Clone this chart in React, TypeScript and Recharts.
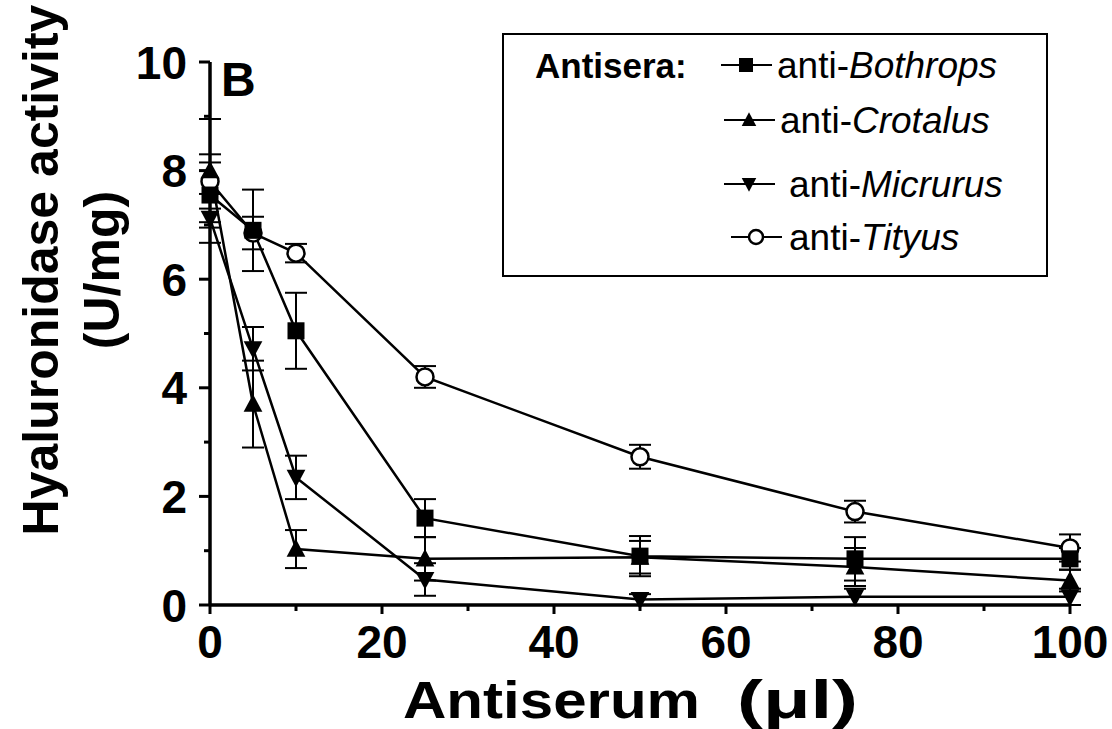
import React from 'react';
import { LineChart, Line, XAxis, YAxis, ErrorBar, Legend } from 'recharts';

const FONT = '"Liberation Sans", Arial, Helvetica, sans-serif';

// Antiserum volume (µl)
const antiserumVolumes = [0, 5, 10, 25, 50, 75, 100];

// Hyaluronidase activity (U/mg) per antiserum, with error (±)
const bothrops = [7.55, 6.9, 5.05, 1.6, 0.9, 0.85, 0.85];
const bothropsErr = [0.6, 0.75, 0.7, 0.35, 0.37, 0.4, 0.2];
const crotalus = [8.0, 3.7, 1.03, 0.85, 0.88, 0.7, 0.45];
const crotalusErr = [0.95, 0.8, 0.35, 0.4, 0.3, 0.35, 0.2];
const micrurus = [7.12, 4.72, 2.35, 0.47, 0.1, 0.15, 0.15];
const micrurusErr = [0.45, 0.4, 0.4, 0.3, 0.1, 0.15, 0.15];
const tityus = [7.8, 6.85, 6.48, 4.2, 2.73, 1.72, 1.05];
const tityusErr = [0.5, 0.3, 0.17, 0.2, 0.22, 0.2, 0.25];

const xTicks = [0, 10, 20, 30, 40, 50, 60, 70, 80, 90, 100];
const xTickLabels = [0, 20, 40, 60, 80, 100];
const yTicks = [0, 1, 2, 3, 4, 5, 6, 7, 8, 9, 10];
const yTickLabels = [0, 2, 4, 6, 8, 10];

const legendGenera = ['Bothrops', 'Crotalus', 'Micrurus', 'Tityus'];
const legendMarkers = ['square', 'triangle', 'invTriangle', 'circle'];
const legendTitle = 'Antisera:';
const panelLetter = 'B';
const xTitleMain = 'Antiserum';
const xTitleUnit = '(μl)';
const yTitleLine1 = 'Hyaluronidase activity';
const yTitleLine2 = '(U/mg)';

const data = antiserumVolumes.map((x, i) => ({
  x,
  bothrops: bothrops[i],
  bothropsErr: bothropsErr[i],
  crotalus: crotalus[i],
  crotalusErr: crotalusErr[i],
  micrurus: micrurus[i],
  micrurusErr: micrurusErr[i],
  tityus: tityus[i],
  tityusErr: tityusErr[i],
}));

const TICK_SIZE = 8;
const TICK_MARGIN = 12;

const YTick = (props: any) => {
  const { x, y, payload } = props;
  const v = payload.value;
  const axisX = x + TICK_SIZE + TICK_MARGIN;
  const major = yTickLabels.includes(v);
  return (
    <g>
      <line x1={axisX} x2={axisX - (major ? 11 : 6)} y1={y} y2={y} stroke="#000" strokeWidth={3} />
      {major && (
        <text x={x - 3} y={y} dy="0.36em" textAnchor="end" fontFamily={FONT} fontWeight="bold" fontSize={46} fill="#000">
          {v}
        </text>
      )}
    </g>
  );
};

const XTick = (props: any) => {
  const { x, y, payload } = props;
  const v = payload.value;
  const axisY = y - TICK_SIZE - TICK_MARGIN;
  const major = xTickLabels.includes(v);
  return (
    <g>
      <line x1={x} x2={x} y1={axisY} y2={axisY + (major ? 9 : 6)} stroke="#000" strokeWidth={3} />
      {major && (
        <text x={x} y={y} dy="0.71em" textAnchor="middle" fontFamily={FONT} fontWeight="bold" fontSize={46} fill="#000">
          {v}
        </text>
      )}
    </g>
  );
};

const XTitle = (props: any) => {
  const vb = props.viewBox;
  const cx = vb.x + vb.width / 2;
  const by = vb.y + 113;
  return (
    <g>
      <text x={cx - 237} y={by} fontFamily={FONT} fontWeight="bold" fontSize={52} fill="#000" textLength={297} lengthAdjust="spacingAndGlyphs">
        {xTitleMain}
      </text>
      <text x={cx + 97} y={by} fontFamily={FONT} fontWeight="bold" fontSize={54} fill="#000" textLength={121} lengthAdjust="spacingAndGlyphs">
        {xTitleUnit}
      </text>
    </g>
  );
};

const YTitle = (props: any) => {
  const vb = props.viewBox;
  const cy = vb.y + 208;
  const l1x = vb.x + 58;
  const l2x = vb.x + 119;
  return (
    <g>
      <text x={l1x} y={cy} transform={`rotate(-90 ${l1x} ${cy})`} textAnchor="middle" fontFamily={FONT} fontWeight="bold" fontSize={50} fill="#000">
        {yTitleLine1}
      </text>
      <text x={l2x} y={cy} transform={`rotate(-90 ${l2x} ${cy})`} textAnchor="middle" fontFamily={FONT} fontWeight="bold" fontSize={50} fill="#000">
        {yTitleLine2}
      </text>
      <text x={vb.x + vb.width + 11} y={vb.y + 34} fontFamily={FONT} fontWeight="bold" fontSize={48} fill="#000">
        {panelLetter}
      </text>
    </g>
  );
};

const markerShape = (kind: string, cx: number, cy: number, s: number) => {
  if (kind === 'square') return <rect x={cx - s / 2} y={cy - s / 2} width={s} height={s} fill="#000" />;
  if (kind === 'triangle')
    return <polygon points={`${cx},${cy - s * 0.55} ${cx - s * 0.52},${cy + s * 0.42} ${cx + s * 0.52},${cy + s * 0.42}`} fill="#000" />;
  if (kind === 'invTriangle')
    return <polygon points={`${cx - s * 0.52},${cy - s * 0.42} ${cx + s * 0.52},${cy - s * 0.42} ${cx},${cy + s * 0.55}`} fill="#000" />;
  return <circle cx={cx} cy={cy} r={s / 2} fill="#fff" stroke="#000" strokeWidth={2.5} />;
};

const makeDot = (kind: string, size: number) => (props: any) => {
  const { cx, cy, index } = props;
  if (cx == null || cy == null) return <g key={`d-${kind}-${index}`} />;
  return <g key={`d-${kind}-${index}`}>{markerShape(kind, cx, cy, size)}</g>;
};

const legendRowY = [30, 85, 149, 202];
const legendSymX = [216, 219, 219, 226];
const legendTextX = [273, 276, 285, 285];

const LegendBox = () => (
  <div
    style={{
      position: 'relative',
      width: 546,
      height: 244,
      border: '2.5px solid #000',
      boxSizing: 'border-box',
      background: '#fff',
      fontFamily: FONT,
      color: '#000',
    }}
  >
    <div style={{ position: 'absolute', left: 31, top: legendRowY[0], transform: 'translateY(-50%)', fontWeight: 'bold', fontSize: 35, lineHeight: 1, whiteSpace: 'nowrap' }}>
      {legendTitle}
    </div>
    {legendGenera.map((g, i) => (
      <React.Fragment key={g}>
        <svg style={{ position: 'absolute', left: legendSymX[i], top: legendRowY[i] - 12 }} width={54} height={24}>
          <line x1={1} x2={52} y1={12} y2={12} stroke="#000" strokeWidth={2} />
          {markerShape(legendMarkers[i], 26, 12, 14)}
        </svg>
        <div style={{ position: 'absolute', left: legendTextX[i], top: legendRowY[i], transform: 'translateY(-50%)', fontSize: 37, lineHeight: 1, whiteSpace: 'nowrap' }}>
          anti-<i>{g}</i>
        </div>
      </React.Fragment>
    ))}
  </div>
);

export default function App() {
  return (
    <div style={{ position: 'absolute', left: 0, top: 0, width: 1112, height: 729, background: '#fff' }}>
      <LineChart width={1112} height={729} data={data} margin={{ top: 62, right: 42, left: 0, bottom: 0 }}>
        <XAxis
          dataKey="x"
          type="number"
          domain={[0, 100]}
          ticks={xTicks}
          interval={0}
          height={124}
          tickSize={TICK_SIZE}
          tickMargin={TICK_MARGIN}
          tickLine={false}
          tick={<XTick />}
          axisLine={{ stroke: '#000', strokeWidth: 3.5 }}
          label={XTitle}
        />
        <YAxis
          type="number"
          domain={[0, 10]}
          ticks={yTicks}
          interval={0}
          width={210}
          tickSize={TICK_SIZE}
          tickMargin={TICK_MARGIN}
          tickLine={false}
          tick={<YTick />}
          axisLine={{ stroke: '#000', strokeWidth: 3.5 }}
          label={YTitle}
        />
        <Legend
          layout="vertical"
          align="center"
          verticalAlign="middle"
          content={() => <LegendBox />}
          wrapperStyle={{ left: 502, top: 33, width: 546, height: 244, bottom: 'auto', right: 'auto' }}
        />
        <Line dataKey="tityus" name="anti-Tityus" stroke="#000" strokeWidth={2.5} dot={makeDot('circle', 17)} activeDot={false} isAnimationActive={false}>
          <ErrorBar dataKey="tityusErr" direction="y" width={11} stroke="#000" strokeWidth={2} />
        </Line>
        <Line dataKey="micrurus" name="anti-Micrurus" stroke="#000" strokeWidth={2.5} dot={makeDot('invTriangle', 18)} activeDot={false} isAnimationActive={false}>
          <ErrorBar dataKey="micrurusErr" direction="y" width={11} stroke="#000" strokeWidth={2} />
        </Line>
        <Line dataKey="crotalus" name="anti-Crotalus" stroke="#000" strokeWidth={2.5} dot={makeDot('triangle', 18)} activeDot={false} isAnimationActive={false}>
          <ErrorBar dataKey="crotalusErr" direction="y" width={11} stroke="#000" strokeWidth={2} />
        </Line>
        <Line dataKey="bothrops" name="anti-Bothrops" stroke="#000" strokeWidth={2.5} dot={makeDot('square', 17)} activeDot={false} isAnimationActive={false}>
          <ErrorBar dataKey="bothropsErr" direction="y" width={11} stroke="#000" strokeWidth={2} />
        </Line>
      </LineChart>
    </div>
  );
}
